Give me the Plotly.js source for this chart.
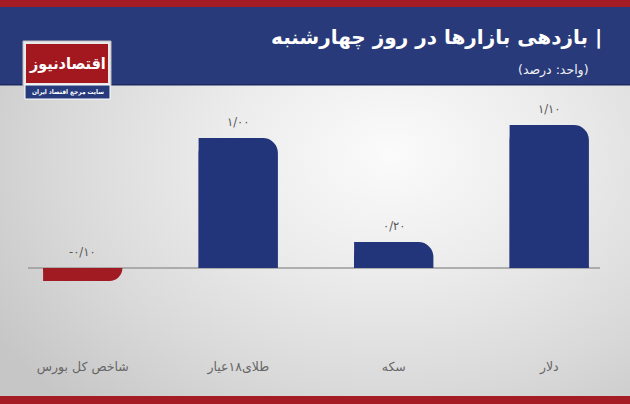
<!DOCTYPE html>
<html>
<head>
<meta charset="utf-8">
<script src="https://cdn.plot.ly/plotly-3.0.1.min.js"></script>
<style>
  html, body { margin: 0; padding: 0; }
  #chart {
    width: 630px; height: 404px;
    background: radial-gradient(ellipse 75% 85% at 62% 38%, #fbfbfb 0%, #ececec 35%, #d9d9d9 70%, #c6c6c6 100%);
  }
</style>
</head>
<body>
<div id="chart"></div>
<script>
// ---- data ----
const categories = ['شاخص کل بورس', 'طلای۱۸عیار', 'سکه', 'دلار'];
const values = [-0.10, 1.00, 0.20, 1.10];
const titleText = 'بازدهی بازارها در روز چهارشنبه';
const unitText = '(واحد: درصد)';
const logoText = 'اقتصادنیوز';
const logoSub = 'سایت مرجع اقتصاد ایران';

// ---- helpers ----
const W = 630, H = 404;
const M = {l: 5, r: 3, t: 112, b: 47};
const PW = W - M.l - M.r, PH = H - M.t - M.b;
const px = x => (x - M.l) / PW;
const py = y => (H - M.b - y) / PH;
const fa = s => s.replace(/[0-9]/g, d => '۰۱۲۳۴۵۶۷۸۹'[d]);
const fmt = v => fa(Math.abs(v).toFixed(2).replace('.', '/'));
const labelOf = v => (v < 0 ? '-' : '') + fmt(v);

const BLUE = '#22357a', RED = '#a11c22', HEAD = '#283a79';
const colors = values.map(v => v < 0 ? RED : BLUE);
const FONT = 'DejaVu Sans';
const FONTC = 'DejaVu Sans Condensed, DejaVu Sans';

const barW = 0.51;
const traces = [
  {
    type: 'bar', x: categories, y: values, width: barW,
    marker: {color: colors, cornerradius: 15, line: {width: 0}},
    hoverinfo: 'skip', showlegend: false
  },
  {
    type: 'bar', x: categories, y: values, width: 0.3, offset: -barW / 2,
    marker: {color: colors, cornerradius: 0, line: {width: 0}},
    hoverinfo: 'skip', showlegend: false
  }
];

const annotations = values.map((v, i) => ({
  x: categories[i], y: Math.max(v, 0), xref: 'x', yref: 'y',
  text: labelOf(v), showarrow: false, yanchor: 'bottom', yshift: 7,
  font: {family: FONT, size: 11.5, color: '#555555'}
}));

annotations.push(
  {xref: 'paper', yref: 'paper', x: px(604), y: py(37), xanchor: 'right', yanchor: 'middle',
   text: '<b>\u200F| ' + titleText + '</b>', showarrow: false,
   font: {family: FONT, size: 20, color: '#ffffff'}},
  {xref: 'paper', yref: 'paper', x: px(591), y: py(70), xanchor: 'right', yanchor: 'middle',
   text: '\u200F' + unitText + '\u200F', showarrow: false,
   font: {family: FONT, size: 12.5, color: '#f0f1f6'}},
  {xref: 'paper', yref: 'paper', x: px(67), y: py(63), xanchor: 'center', yanchor: 'middle',
   text: '<b>' + logoText + '</b>', showarrow: false,
   font: {family: FONTC, size: 16, color: '#ffffff'}},
  {xref: 'paper', yref: 'paper', x: px(67.5), y: py(92), xanchor: 'center', yanchor: 'middle',
   text: '<b>' + logoSub + '</b>', showarrow: false,
   font: {family: FONTC, size: 6.5, color: '#ffffff'}}
);

const rect = (x0, y0, x1, y1, fill, line) => ({
  type: 'rect', xref: 'paper', yref: 'paper', layer: 'below',
  x0: px(x0), x1: px(x1), y0: py(y0), y1: py(y1),
  fillcolor: fill, line: line || {width: 0}
});

const shapes = [
  rect(0, 0, 630, 7, '#a51c24'),
  rect(0, 7, 630, 84, HEAD),
  rect(0, 84, 630, 85.5, '#1c2a63'),
  rect(0, 396, 630, 404, '#a51c24'),
  // logo
  rect(23, 41, 111, 86, '#e9e9e9', {color: '#bdbdbd', width: 1}),
  rect(26, 44, 108, 83, '#a3181f'),
  rect(25, 85, 110, 99, '#263a7c', {color: '#ffffff', width: 1}),
  // zero line
  {type: 'line', xref: 'paper', yref: 'y', x0: px(28), x1: px(600), y0: 0, y1: 0,
   line: {color: '#9a9a9a', width: 1.5}, layer: 'below'}
];

const layout = {
  width: W, height: H, margin: M,
  paper_bgcolor: 'rgba(0,0,0,0)', plot_bgcolor: 'rgba(0,0,0,0)',
  barmode: 'overlay', showlegend: false,
  xaxis: {
    type: 'category', range: [-0.5, 3.5], fixedrange: true,
    showgrid: false, showline: false, zeroline: false, ticks: '',
    tickfont: {family: FONT, size: 12.5, color: '#666666'}
  },
  yaxis: {
    range: [-(H - M.b - 268) / 130, (268 - M.t) / 130], visible: false,
    showgrid: false, zeroline: false, fixedrange: true
  },
  shapes: shapes,
  annotations: annotations,
  font: {family: FONT}
};

Plotly.newPlot('chart', traces, layout, {displayModeBar: false, staticPlot: true});
</script>
</body>
</html>
